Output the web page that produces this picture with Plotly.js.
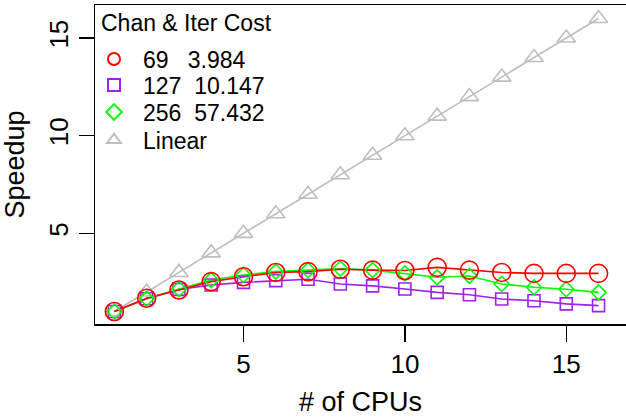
<!DOCTYPE html>
<html>
<head>
<meta charset="utf-8">
<script src="https://cdn.plot.ly/plotly-3.0.1.min.js"></script>
<style>html,body{margin:0;padding:0;background:#fff;}#chart{width:626px;height:417px;}</style>
</head>
<body>
<div id="chart"></div>
<script>
const cpus = [1,2,3,4,5,6,7,8,9,10,11,12,13,14,15,16];
const speedup69  = [1,1.68,2.1,2.53,2.78,3.0,3.04,3.16,3.12,3.1,3.26,3.12,3.0,2.95,2.95,2.95];
const speedup127 = [1,1.65,2.13,2.36,2.49,2.58,2.65,2.41,2.31,2.15,1.98,1.86,1.64,1.55,1.39,1.3];
const speedup256 = [1,1.66,2.15,2.61,2.87,3.04,3.12,3.2,3.12,2.95,2.75,2.82,2.41,2.24,2.14,1.98];
const linear     = [1,2,3,4,5,6,7,8,9,10,11,12,13,14,15,16];
const names = ['69\u00a0\u00a0\u00a03.984','127\u00a0\u00a010.147','256\u00a0\u00a057.432','Linear'];
const legendTitle = 'Chan & Iter Cost';

// plot area in px: left 95, right 626, top 5, bottom 324
const PT = 5, PB = 324, PL = 95, PR = 626;
const py = v => (PB - v) / (PB - PT);
const px = v => (v - PL) / (PR - PL);
const rowY = [59, 85, 112, 140];

const series = [
  {y: linear, color:'#bebebe', symbol:'triangle-up-open', size:16, name:names[3], leg:'legend4'},
  {y: speedup127, color:'#a020f0', symbol:'square-open', size:12, name:names[1], leg:'legend2'},
  {y: speedup256, color:'#00ff00', symbol:'diamond-open', size:11.5, name:names[2], leg:'legend3'},
  {y: speedup69, color:'#ff0000', symbol:'circle-open', size:18, name:names[0], leg:'legend'}
];
const traces = [];
series.forEach(s => {
  traces.push({x: cpus, y: s.y, type:'scatter', mode:'lines', line:{color:s.color, width:1.6}, showlegend:false, hoverinfo:'skip'});
});
series.forEach(s => {
  traces.push({x: cpus, y: s.y, type:'scatter', mode:'markers', name:s.name, legend:s.leg,
    marker:{symbol:s.symbol, size:s.size, color:s.color, line:{color:s.color, width:1.6}}});
});

const legFont = {family:'Liberation Sans, Arial, sans-serif', size:23, color:'#000'};
function mkLegend(i) {
  return {x: px(85), y: py(rowY[i]), xanchor:'left', yanchor:'middle', bgcolor:'rgba(0,0,0,0)',
    font: legFont, itemsizing:'constant', itemwidth:48, borderwidth:0};
}

const layout = {
  width:626, height:417,
  margin:{l:PL, r:626-PR, t:PT, b:417-PB, pad:0},
  paper_bgcolor:'#fff', plot_bgcolor:'#fff',
  font: {family:'Liberation Sans, Arial, sans-serif', size:26, color:'#000'},
  showlegend:true,
  legend: mkLegend(0), legend2: mkLegend(1), legend3: mkLegend(2), legend4: mkLegend(3),
  annotations:[{text: legendTitle, xref:'paper', yref:'paper', x: px(99), y: py(23),
    xanchor:'left', yanchor:'middle', showarrow:false, font: legFont}],
  xaxis:{range:[0.4,16.85], tickvals:[5,10,15], ticks:'outside', ticklen:16, tickwidth:1.5, tickcolor:'#000',
    showgrid:false, zeroline:false, showline:true, linecolor:'#000', linewidth:1.5, mirror:true,
    tickfont:{size:26}, title:{text:'# of CPUs', font:{size:27}, standoff:16}},
  yaxis:{range:[0.36,16.69], tickvals:[5,10,15], ticks:'outside', ticklen:15, tickwidth:1.5, tickcolor:'#000',
    showgrid:false, zeroline:false, showline:true, linecolor:'#000', linewidth:1.5, mirror:false,
    tickangle:-90, tickfont:{size:26}, title:{text:'Speedup', font:{size:27}, standoff:12}}
};
Plotly.newPlot('chart', traces, layout, {staticPlot:true, displayModeBar:false});
</script>
</body>
</html>
